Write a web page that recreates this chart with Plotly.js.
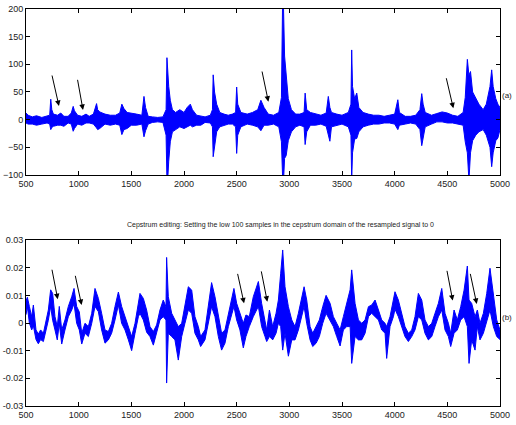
<!DOCTYPE html>
<html>
<head>
<meta charset="utf-8">
<script src="https://cdn.plot.ly/plotly-3.0.1.min.js"></script>
<style>html,body{margin:0;padding:0;background:#fff}#plot{width:516px;height:425px}</style>
</head>
<body>
<div id="plot"></div>
<script>
// ---- (a) signal envelope: sample index, upper, lower ----
var topX  = [500,520,560,600,650,700,725,735,745,760,800,830,860,900,930,948,960,990,1030,1070,1100,1140,1170,1180,1200,1250,1300,1350,1390,1410,1430,1460,1500,1550,1600,1620,1635,1660,1700,1750,1800,1830,1838,1845,1855,1870,1890,1920,1960,2000,2030,2060,2080,2120,2160,2200,2250,2270,2277,2290,2310,2340,2380,2420,2460,2490,2500,2510,2540,2600,2650,2700,2730,2760,2800,2850,2900,2925,2937,2945,2955,2970,2990,3020,3060,3100,3140,3150,3165,3200,3250,3300,3350,3370,3385,3400,3450,3500,3560,3585,3592,3600,3620,3640,3660,3700,3750,3800,3850,3900,3950,4000,4030,4045,4100,4150,4200,4240,4257,4270,4290,4350,4400,4450,4500,4550,4600,4650,4670,4690,4705,4720,4740,4770,4800,4840,4870,4905,4921,4935,4960,4980,5000];
var topHi = [12,8,5,7,4,7,8,37,18,10,8,12,6,6,12,24,16,8,6,10,6,10,29,18,14,10,8,8,12,28,20,13,12,10,8,42,22,6,5,4,5,18,112,80,60,35,18,13,18,13,22,28,18,8,6,5,8,18,81,50,28,13,10,8,10,13,59,28,13,10,13,18,35,22,10,8,13,40,230,200,115,80,38,18,10,10,13,48,18,13,10,8,12,42,22,13,10,8,13,28,126,60,38,48,22,13,10,8,8,6,8,10,36,13,6,6,8,18,47,28,13,8,11,14,12,8,6,13,40,109,80,87,50,38,28,18,28,60,90,60,38,28,22];
var topLo = [-6,-8,-8,-10,-8,-6,-8,-18,-14,-12,-10,-10,-12,-6,-8,-21,-16,-8,-10,-6,-6,-8,-15,-18,-16,-8,-10,-8,-10,-27,-18,-16,-10,-10,-8,-31,-20,-8,-5,-4,-5,-28,-110,-110,-75,-40,-22,-18,-13,-16,-13,-10,-13,-10,-10,-5,-6,-13,-67,-50,-22,-13,-10,-8,-8,-13,-61,-28,-13,-8,-10,-13,-20,-10,-10,-8,-13,-40,-110,-110,-70,-65,-38,-22,-13,-10,-13,-45,-22,-10,-10,-8,-12,-30,-39,-13,-10,-8,-13,-28,-110,-60,-35,-34,-22,-13,-10,-8,-8,-6,-6,-8,-18,-10,-8,-6,-8,-18,-47,-33,-13,-8,-4,-4,-6,-6,-8,-10,-40,-60,-110,-60,-38,-28,-22,-18,-28,-50,-85,-60,-38,-33,-18];

// ---- (b) signal envelope: sample index, upper, lower ----
var botX  = [500,513,532,554,570,595,617,639,665,690,712,734,753,775,797,816,839,870,902,934,956,981,1006,1029,1060,1092,1124,1155,1187,1218,1250,1282,1313,1345,1377,1408,1440,1472,1503,1535,1567,1582,1614,1645,1677,1709,1740,1772,1803,1829,1835,1851,1883,1914,1946,1978,2009,2041,2073,2104,2136,2158,2199,2231,2262,2294,2326,2357,2389,2421,2452,2474,2500,2531,2563,2588,2620,2658,2706,2737,2769,2785,2811,2842,2874,2896,2918,2937,2959,2991,3023,3054,3086,3118,3140,3165,3197,3222,3254,3285,3317,3349,3387,3418,3450,3482,3513,3545,3577,3592,3624,3656,3687,3719,3751,3782,3814,3846,3877,3909,3924,3956,3988,4003,4035,4067,4098,4130,4162,4193,4225,4257,4288,4320,4352,4383,4415,4447,4478,4510,4532,4564,4595,4627,4659,4690,4706,4731,4763,4785,4810,4842,4874,4905,4937,4969,5000];
var botHi = [0.008,0.0093,0.006,0.0023,0.0065,-0.0025,-0.004,-0.0025,-0.0037,0.001,0.0047,0.012,0.0107,0.0023,-0.0013,0.006,-0.0025,0.0011,0.006,0.0095,0.0125,0.006,0.004,-0.0037,-0.0001,-0.0013,0.0035,0.0125,0.0089,0.0035,-0.0025,-0.0031,-0.0001,0.006,0.0112,0.006,0.0023,-0.0013,-0.0049,-0.0001,0.0083,0.0107,0.0089,0.0047,-0.0013,-0.0031,-0.0007,0.0047,0.0083,0.0059,0.0237,0.0095,0.0035,0.0011,-0.0013,-0.0001,0.0059,0.0131,0.0119,0.0023,-0.0013,-0.0049,-0.0025,0.0059,0.0146,0.0095,0.0023,-0.0037,-0.0025,0.0035,0.0083,0.0125,0.0071,0.0035,-0.0001,0.0029,0.0023,0.0095,0.015,0.0071,0.0011,-0.0025,0.0047,-0.0013,0.0035,0.0083,0.018,0.0264,0.0131,0.0059,0.0011,-0.0013,0.0035,0.0095,0.0131,0.0083,-0.0013,-0.0037,-0.0013,0.0011,0.0059,0.010,0.0071,0.0023,-0.0001,-0.0025,0.0023,0.0071,0.012,0.0192,0.0071,0.0011,-0.0001,0.0011,0.0059,0.0065,0.0083,0.0047,0.0011,-0.0001,-0.0013,0.0023,0.0083,0.0113,0.0083,0.0035,-0.0013,-0.0037,-0.0025,0.0023,0.0107,0.0083,0.0011,-0.0013,-0.0001,0.0035,0.0071,0.0125,0.0035,-0.0001,-0.0037,0.0047,0.0011,0.0059,0.0119,0.0206,0.0083,0.0071,0.0023,0.0047,-0.0001,0.0035,0.0107,0.0198,0.0107,0.0011,-0.0025];
var botLo = [0.003,0.006,0.000,-0.0025,-0.001,-0.006,-0.0075,-0.006,-0.0067,-0.0025,0.001,0.006,0.001,-0.0025,-0.0061,-0.0002,-0.0076,-0.0025,0.0023,0.0047,0.007,-0.0001,-0.0025,-0.0076,-0.0037,-0.0049,-0.0001,0.006,0.0041,-0.0025,-0.0073,-0.0061,-0.0037,0.0011,0.0065,-0.0001,-0.0025,-0.0061,-0.010,-0.0037,0.0023,0.0035,0.0011,-0.0033,-0.0049,-0.008,-0.0037,0.0011,0.0023,0.0011,-0.0217,-0.0037,-0.0049,-0.0061,-0.0134,-0.0049,-0.0001,0.0047,0.0035,-0.0037,-0.0061,-0.0085,-0.0061,-0.0001,0.0059,0.0023,-0.0049,-0.0098,-0.0073,-0.0013,0.0035,0.006,0.0011,-0.0025,-0.009,-0.0049,-0.0013,0.0023,0.006,-0.0013,-0.0049,-0.0067,-0.0049,-0.0061,-0.0037,-0.0001,-0.0013,-0.0098,-0.0037,-0.012,-0.0061,-0.0061,-0.0025,0.0023,0.006,-0.0001,-0.0061,-0.0085,-0.0073,-0.0049,-0.0001,0.0035,0.0011,-0.0013,-0.0049,-0.0083,-0.0025,-0.0013,-0.0013,-0.0146,-0.0049,-0.0061,-0.0061,-0.0037,0.0023,0.0035,0.0023,0.0011,-0.0025,-0.0037,-0.0128,-0.0013,0.0023,0.005,0.0023,-0.0013,-0.0049,-0.0067,-0.0049,-0.0025,0.0023,0.0011,-0.0037,-0.0061,-0.0049,-0.0013,0.0023,0.0047,-0.0025,-0.0049,-0.0085,-0.0037,-0.0025,0.0011,0.0023,-0.0013,-0.0146,-0.0061,-0.0098,-0.0013,-0.0061,-0.0037,0.0011,0.0047,-0.0013,-0.0049,-0.006];

// ---- arrows: tail (x,y) -> tip (x,y) ----
var arrowsA = {tailX:[744,987,2738,4487], tailY:[82.5,74.7,89.7,77.6], tipX:[813,1041,2801,4557], tipY:[24.7,17.5,32.5,20.5]};
var arrowsB = {tailX:[744,965,2506,2731,4494,4715], tailY:[0.0198,0.0176,0.0183,0.0192,0.0194,0.0183], tipX:[801,1028,2570,2791,4551,4779], tipY:[0.0086,0.0065,0.0071,0.0077,0.0081,0.0069]};

// ---- ticks ----
var xTicks = [500,1000,1500,2000,2500,3000,3500,4000,4500,5000];
var yTicksA = [-100,-50,0,50,100,150,200];
var yTicksB = [-0.03,-0.02,-0.01,0,0.01,0.02,0.03];
var yTickTextB = ['-0.03','-0.02','-0.01','0','0.01','0.02','0.03'];
var titleB = 'Cepstrum editing: Setting the low 100 samples in the cepstrum domain of the resampled signal to 0';

var BLUE = '#0000ff';
var FONT = 'Liberation Sans Narrow, Arial Narrow, Liberation Sans, sans-serif';

function band(x, lo, hi, xa, ya) {
  return [
    {x:x, y:lo, xaxis:xa, yaxis:ya, type:'scatter', mode:'lines', line:{color:BLUE, width:1}, hoverinfo:'skip', showlegend:false},
    {x:x, y:hi, xaxis:xa, yaxis:ya, type:'scatter', mode:'lines', fill:'tonexty', fillcolor:BLUE, line:{color:BLUE, width:1}, hoverinfo:'skip', showlegend:false}
  ];
}

var data = band(topX, topLo, topHi, 'x', 'y').concat(band(botX, botLo, botHi, 'x2', 'y2'));

var axBase = {
  showline:true, linecolor:'#000', linewidth:1, mirror:'allticks',
  ticks:'inside', ticklen:4, tickwidth:1, tickcolor:'#000',
  showgrid:false, zeroline:false,
  tickfont:{family:FONT, size:9, color:'#222'}
};
function ax(extra){ return Object.assign({}, axBase, extra); }

var annotations = [];
function addArrows(a, xr, yr) {
  for (var i = 0; i < a.tipX.length; i++) {
    annotations.push({x:a.tipX[i], y:a.tipY[i], ax:a.tailX[i], ay:a.tailY[i],
      xref:xr, yref:yr, axref:xr, ayref:yr, text:'', showarrow:true,
      arrowhead:2, arrowsize:1.1, arrowwidth:1, arrowcolor:'#000', standoff:0});
  }
}
addArrows(arrowsA, 'x', 'y');
addArrows(arrowsB, 'x2', 'y2');
annotations.push({xref:'paper', yref:'paper', x:1.03, y:0.783, xanchor:'right', yanchor:'middle', text:'(a)', showarrow:false, font:{family:FONT, size:8, color:'#222'}});
annotations.push({xref:'paper', yref:'paper', x:1.03, y:0.224, xanchor:'right', yanchor:'middle', text:'(b)', showarrow:false, font:{family:FONT, size:8, color:'#222'}});
annotations.push({xref:'paper', yref:'paper', x:0.536, y:0.456, xanchor:'center', yanchor:'middle', text:titleB, showarrow:false, font:{family:FONT, size:7, color:'#222'}});

var layout = {
  width:516, height:425,
  margin:{l:26, r:16, t:9, b:19},
  paper_bgcolor:'#fff', plot_bgcolor:'#fff',
  showlegend:false,
  xaxis: ax({domain:[0,1], anchor:'y', range:[500,5000], tickvals:xTicks}),
  yaxis: ax({domain:[0.5819,1], anchor:'x', range:[-100,200], tickvals:yTicksA}),
  xaxis2: ax({domain:[0,1], anchor:'y2', range:[500,5000], tickvals:xTicks}),
  yaxis2: ax({domain:[0,0.4181], anchor:'x2', range:[-0.03,0.03], tickvals:yTicksB, ticktext:yTickTextB}),
  annotations:annotations
};

Plotly.newPlot('plot', data, layout, {staticPlot:true, displayModeBar:false});
</script>
</body>
</html>
